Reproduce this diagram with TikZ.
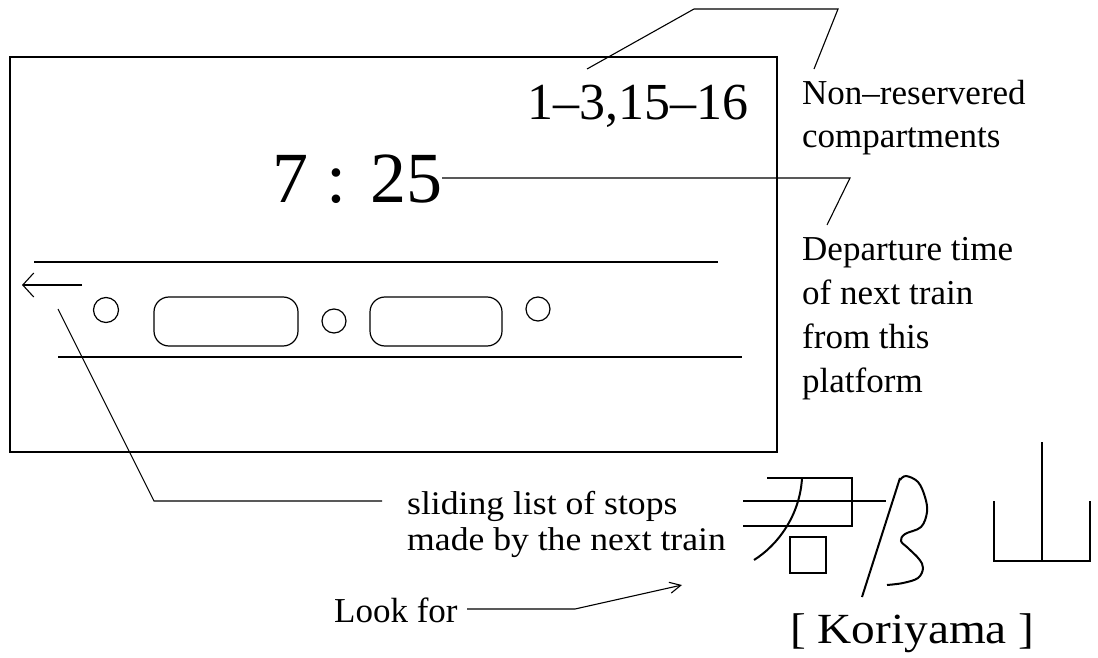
\documentclass[tikz,border=0pt]{standalone}
\usepackage{fontspec}
\setmainfont{Liberation Serif}
\newfontfamily\widefont[FakeStretch=1.08]{Liberation Serif}
\newfontfamily\kfont[FakeStretch=1.1]{Liberation Serif}
\usetikzlibrary{arrows.meta}
\begin{document}
\begin{tikzpicture}[x=1pt,y=-1pt,
  conn/.style={line width=1.1pt},
  frame/.style={draw, line width=2pt, inner sep=0pt},
  innerline/.style={line width=1.3pt},
  stroke/.style={line width=2pt},
  lbl/.style={inner sep=0pt, anchor=base west},
  big/.style={font=\fontsize{35}{43}\selectfont},
  hole/.style={draw, circle, line width=1.2pt, inner sep=0pt, minimum size=24pt},
  win/.style={draw, rounded corners=15pt, line width=1.2pt, inner sep=0pt, minimum height=49pt},
]
\useasboundingbox (0,0) rectangle (1098,658);

% display frame
\node[frame, minimum width=767pt, minimum height=395pt] (display) at (393.5,254.5) {};

% texts in display
\node[lbl, font=\fontsize{52}{60}\selectfont] (comp) at (527,120) {1–3,15–16};
\node[lbl, font=\fontsize{72}{80}\selectfont] (time) at (272,202) {7 : 25};

% right labels
\node[lbl, big] (nonres) at (802,105) {Non–reservered};
\node[lbl, big] (nonres2) at (802,148) {compartments};
\node[lbl, big] (dep) at (802,260) {Departure time};
\node[lbl, big] (dep2) at (802,304) {of next train};
\node[lbl, big] (dep3) at (802,348) {from this};
\node[lbl, big] (dep4) at (802,392) {platform};

% sliding list label
\node[lbl, font=\widefont\fontsize{33}{36}\selectfont] (slide) at (407,514) {sliding list of stops};
\node[lbl, font=\widefont\fontsize{33}{36}\selectfont] (slide2) at (407,550) {made by the next train};

% look for
\node[lbl, big] (look) at (334,622) {Look for};
\node[lbl, font=\kfont\fontsize{43}{50}\selectfont] (kori) at (790,643) {[ Koriyama ]};

% stop list strip
\draw[innerline] (34,262) -- (718,262);
\draw[innerline] (58,357) -- (742,357);
\node[hole, minimum size=25pt] (h1) at (106,310) {};
\node[win, minimum width=144pt] (w1) at (226,321.5) {};
\node[hole] (h2) at (334,321) {};
\node[win, minimum width=132pt] (w2) at (436,321.5) {};
\node[hole] (h3) at (538,309) {};

% direction arrow
\coordinate (dirtail) at (82,285);
\coordinate (dirhead) at (22,285);
\draw[conn, -{Straight Barb[length=11pt,width=24pt]}] (dirtail) -- (dirhead);

% connectors
\coordinate (numtip) at (587,69);
\coordinate (nrtip) at (814,69);
\draw[conn] (numtip) -- (694,9) -- (838,9) -- (nrtip);

\coordinate (timetip) at (442,178);
\coordinate (deptip) at (827,225);
\draw[conn] (timetip) -- (850,178) -- (deptip);

\coordinate (listtip) at (58,309);
\coordinate (slidetip) at (382,501);
\draw[conn] (listtip) -- (154,501) -- (slidetip);

\coordinate (lookend) at (467,609);
\coordinate (looktip) at (682,585);
\draw[conn, -{Straight Barb[length=11pt,width=11pt]}] (lookend) -- (575,609) -- (looktip);

% kanji (Kori)
\draw[stroke] (767,478) -- (852,478) -- (852,526) -- (743,526);
\draw[stroke] (743,501) -- (886,501);
\draw[stroke] (802,478) .. controls (800,515) and (778,545) .. (754,560);
\draw[stroke] (790,537) rectangle (826,573);
\draw[stroke] (900,478) -- (862,597);
\draw[stroke] plot[smooth, tension=0.6] coordinates {(900,480) (906,476) (918,482) (925,497) (927,512) (921,527) (905,534) (901,541) (908,548) (919,559) (923,568) (918,578) (903,583) (887,585)};
% kanji (yama)
\draw[stroke] (994,501) -- (994,561) -- (1090,561) -- (1090,501);
\draw[stroke] (1042,442) -- (1042,561);
\end{tikzpicture}
\end{document}
